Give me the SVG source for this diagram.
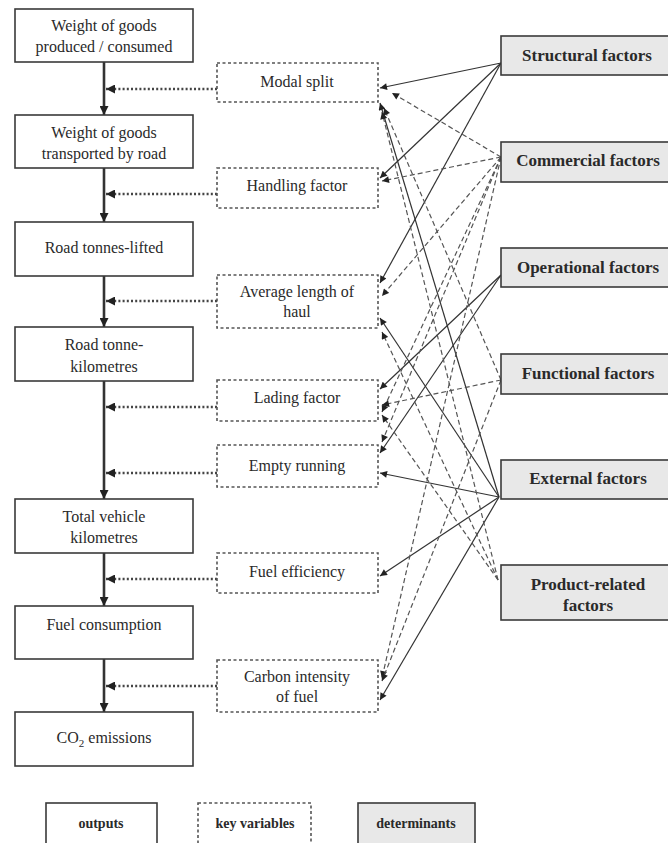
<svg xmlns="http://www.w3.org/2000/svg" width="668" height="843" viewBox="0 0 668 843">
<style>
.out{fill:#fff;stroke:#3a3a3a;stroke-width:1.6}
.key{fill:#fff;stroke:#555;stroke-width:1.6;stroke-dasharray:3 2.5}
.det{fill:#e8e8e8;stroke:#3a3a3a;stroke-width:1.6}
.t{font-family:"Liberation Serif","Times New Roman",serif;font-size:16px;fill:#2a2a2a;text-anchor:middle}
.b{font-family:"Liberation Serif","Times New Roman",serif;font-size:17px;font-weight:bold;fill:#2a2a2a;text-anchor:middle}
.lg{font-family:"Liberation Serif","Times New Roman",serif;font-size:14px;font-weight:bold;fill:#2a2a2a;text-anchor:middle}
.main{stroke:#333;stroke-width:2.6;fill:none}
.dot{stroke:#444;stroke-width:2.4;stroke-dasharray:2 2.2;fill:none}
.sol{stroke:#333;stroke-width:1.2;fill:none}
.das{stroke:#555;stroke-width:1.2;stroke-dasharray:5 3;fill:none}
</style>
<defs>
<marker id="ah" viewBox="0 0 10 10" refX="10" refY="5" markerWidth="8" markerHeight="7" markerUnits="userSpaceOnUse" orient="auto">
<path d="M0,0 L10,5 L0,10 z" fill="#222"/>
</marker>
<marker id="ahm" viewBox="0 0 10 10" refX="10" refY="5" markerWidth="9" markerHeight="9" markerUnits="userSpaceOnUse" orient="auto">
<path d="M0,0 L10,5 L0,10 z" fill="#222"/>
</marker>
</defs>

<g id="connectors">
<g id="main-flow">
<path class="main" d="M104,62 V115" marker-end="url(#ahm)"/>
<path class="main" d="M104,168 V222" marker-end="url(#ahm)"/>
<path class="main" d="M104,276 V327" marker-end="url(#ahm)"/>
<path class="main" d="M104,381 V499" marker-end="url(#ahm)"/>
<path class="main" d="M104,553 V606" marker-end="url(#ahm)"/>
<path class="main" d="M104,659 V712" marker-end="url(#ahm)"/>
</g>
<g id="key-to-flow">
<path class="dot" d="M217,89 H106" marker-end="url(#ahm)"/>
<path class="dot" d="M217,194 H106" marker-end="url(#ahm)"/>
<path class="dot" d="M217,301 H106" marker-end="url(#ahm)"/>
<path class="dot" d="M217,407 H106" marker-end="url(#ahm)"/>
<path class="dot" d="M217,473 H106" marker-end="url(#ahm)"/>
<path class="dot" d="M217,579 H106" marker-end="url(#ahm)"/>
<path class="dot" d="M217,686 H106" marker-end="url(#ahm)"/>
</g>
<g id="determinant-links">
<path class="sol" d="M501,63 L380,88" marker-end="url(#ah)"/>
<path class="sol" d="M501,63 L380,178" marker-end="url(#ah)"/>
<path class="sol" d="M501,63 L380,283" marker-end="url(#ah)"/>
<path class="sol" d="M501,275 L380,389" marker-end="url(#ah)"/>
<path class="sol" d="M501,275 L380,453" marker-end="url(#ah)"/>
<path class="sol" d="M499,497 L380,103" marker-end="url(#ah)"/>
<path class="sol" d="M499,497 L380,318" marker-end="url(#ah)"/>
<path class="sol" d="M499,497 L380,473" marker-end="url(#ah)"/>
<path class="sol" d="M499,497 L380,576" marker-end="url(#ah)"/>
<path class="sol" d="M499,497 L380,700" marker-end="url(#ah)"/>
<path class="das" d="M501,157 L392,93" marker-end="url(#ah)"/>
<path class="das" d="M501,157 L382,181" marker-end="url(#ah)"/>
<path class="das" d="M501,157 L382,296" marker-end="url(#ah)"/>
<path class="das" d="M501,157 L382,412" marker-end="url(#ah)"/>
<path class="das" d="M501,157 L382,442" marker-end="url(#ah)"/>
<path class="das" d="M501,157 L382,678" marker-end="url(#ah)"/>
<path class="das" d="M501,380 L384,108" marker-end="url(#ah)"/>
<path class="das" d="M501,380 L382,405" marker-end="url(#ah)"/>
<path class="das" d="M501,380 L382,681" marker-end="url(#ah)"/>
<path class="das" d="M498,580 L382,112" marker-end="url(#ah)"/>
<path class="das" d="M498,580 L382,332" marker-end="url(#ah)"/>
<path class="das" d="M498,580 L382,415" marker-end="url(#ah)"/>
</g>
</g>

<g id="out-weight-produced"><rect class="out" x="15" y="9" width="178" height="53"/><text class="t" x="104" y="31">Weight of goods</text><text class="t" x="104" y="52">produced / consumed</text></g>
<g id="out-weight-road"><rect class="out" x="15" y="115" width="178" height="53"/><text class="t" x="104" y="138">Weight of goods</text><text class="t" x="104" y="159">transported by road</text></g>
<g id="out-tonnes-lifted"><rect class="out" x="15" y="222" width="178" height="54"/><text class="t" x="104" y="253">Road tonnes-lifted</text></g>
<g id="out-tonne-km"><rect class="out" x="15" y="327" width="178" height="54"/><text class="t" x="104" y="350">Road tonne-</text><text class="t" x="104" y="372">kilometres</text></g>
<g id="out-vehicle-km"><rect class="out" x="15" y="499" width="178" height="54"/><text class="t" x="104" y="522">Total vehicle</text><text class="t" x="104" y="543">kilometres</text></g>
<g id="out-fuel"><rect class="out" x="15" y="606" width="178" height="53"/><text class="t" x="104" y="630">Fuel consumption</text></g>
<g id="out-co2"><rect class="out" x="15" y="712" width="178" height="54"/><text class="t" x="104" y="743">CO<tspan font-size="11" dy="4">2</tspan><tspan dy="-4"> emissions</tspan></text></g>

<g id="key-modal"><rect class="key" x="217" y="63" width="161" height="39"/><text class="t" x="297" y="87">Modal split</text></g>
<g id="key-handling"><rect class="key" x="217" y="168" width="161" height="40"/><text class="t" x="297" y="191">Handling factor</text></g>
<g id="key-haul"><rect class="key" x="217" y="275" width="161" height="53"/><text class="t" x="297" y="297">Average length of</text><text class="t" x="297" y="317">haul</text></g>
<g id="key-lading"><rect class="key" x="217" y="380" width="161" height="41"/><text class="t" x="297" y="403">Lading factor</text></g>
<g id="key-empty"><rect class="key" x="217" y="445" width="161" height="42"/><text class="t" x="297" y="471">Empty running</text></g>
<g id="key-fuel-eff"><rect class="key" x="217" y="553" width="161" height="40"/><text class="t" x="297" y="577">Fuel efficiency</text></g>
<g id="key-carbon"><rect class="key" x="217" y="660" width="161" height="52"/><text class="t" x="297" y="682">Carbon intensity</text><text class="t" x="297" y="702">of fuel</text></g>

<g id="det-structural"><rect class="det" x="501" y="36" width="170" height="39"/><text class="b" x="587" y="61">Structural factors</text></g>
<g id="det-commercial"><rect class="det" x="501" y="142" width="170" height="40"/><text class="b" x="588" y="166">Commercial factors</text></g>
<g id="det-operational"><rect class="det" x="501" y="248" width="170" height="39"/><text class="b" x="588" y="273">Operational factors</text></g>
<g id="det-functional"><rect class="det" x="501" y="354" width="170" height="40"/><text class="b" x="588" y="379">Functional factors</text></g>
<g id="det-external"><rect class="det" x="501" y="460" width="170" height="39"/><text class="b" x="588" y="484">External factors</text></g>
<g id="det-product"><rect class="det" x="501" y="565" width="170" height="55"/><text class="b" x="588" y="590">Product-related</text><text class="b" x="588" y="611">factors</text></g>

<g id="legend">
<g id="legend-outputs"><rect class="out" x="46" y="803" width="111" height="42"/><text class="lg" x="101" y="828">outputs</text></g>
<g id="legend-key"><rect class="key" x="198" y="803" width="113" height="42"/><text class="lg" x="255" y="828">key variables</text></g>
<g id="legend-det"><rect class="det" x="358" y="803" width="117" height="42"/><text class="lg" x="416" y="828">determinants</text></g>
</g>
</svg>
